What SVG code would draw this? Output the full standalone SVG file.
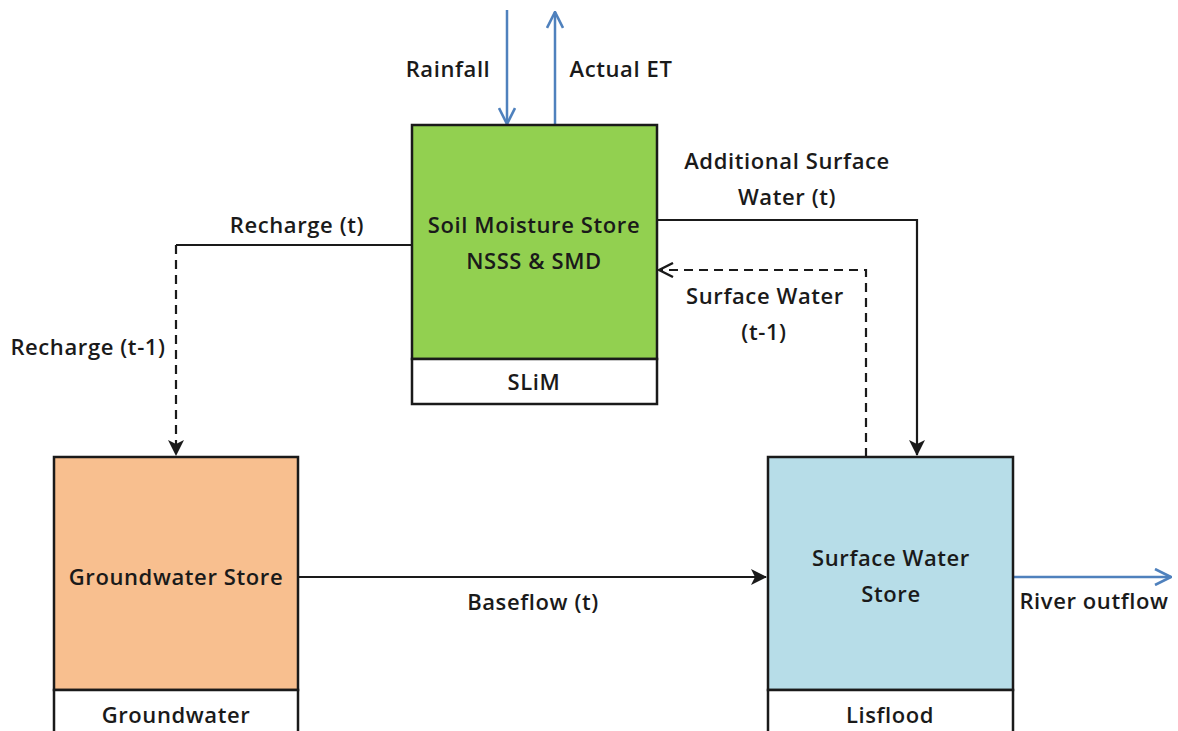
<svg xmlns="http://www.w3.org/2000/svg" width="1178" height="731" viewBox="0 0 1178 731">
<defs>
<style>
text{font-family:"Open Sans","Liberation Sans",sans-serif;font-weight:600;font-size:22px;letter-spacing:0.6px;fill:#1a1a1a;text-anchor:middle}
.box{stroke:#1a1a1a;stroke-width:2.5}
.ln{fill:none;stroke:#1a1a1a;stroke-width:2.2}
.dash{stroke-dasharray:9 6}
.blue{fill:none;stroke:#4f81bd;stroke-width:2.5}
</style>
<marker id="ah" viewBox="0 0 16 16" refX="15" refY="8" markerWidth="16" markerHeight="16" markerUnits="userSpaceOnUse" orient="auto">
<path d="M0,0 L16,8 L0,16 L4,8 Z" fill="#1a1a1a"/>
</marker>
<marker id="ao" viewBox="0 0 16 16" refX="15" refY="8" markerWidth="16" markerHeight="16" markerUnits="userSpaceOnUse" orient="auto">
<path d="M1,1 L15,8 L1,15" fill="none" stroke="#1a1a1a" stroke-width="2.4"/>
</marker>
<marker id="ab" viewBox="0 0 18 18" refX="17" refY="9" markerWidth="18" markerHeight="18" markerUnits="userSpaceOnUse" orient="auto">
<path d="M1,1 L17,9 L1,17" fill="none" stroke="#4f81bd" stroke-width="2.6"/>
</marker>
</defs>
<rect width="1178" height="731" fill="#ffffff"/>

<g id="connectors">
<line class="blue" x1="507" y1="10" x2="507" y2="124" marker-end="url(#ab)"/>
<line class="blue" x1="555" y1="125" x2="555" y2="12" marker-end="url(#ab)"/>
<polyline class="ln" points="657,220 917,220 917,455" marker-end="url(#ah)"/>
<polyline class="ln dash" points="866,457 866,270 659,270" marker-end="url(#ao)"/>
<polyline class="ln" points="412,245 176,245"/>
<line class="ln dash" x1="176" y1="245" x2="176" y2="455" marker-end="url(#ah)"/>
<line class="ln" x1="298" y1="577" x2="766" y2="577" marker-end="url(#ah)"/>
<line class="blue" x1="1013" y1="577" x2="1171" y2="577" marker-end="url(#ab)"/>
<text x="448" y="77">Rainfall</text>
<text x="621" y="77">Actual ET</text>
<text x="787" y="169">Additional Surface</text>
<text x="787" y="205">Water (t)</text>
<text x="297" y="233">Recharge (t)</text>
<text x="88" y="355">Recharge (t-1)</text>
<text x="765" y="304">Surface Water</text>
<text x="764" y="340">(t-1)</text>
<text x="533" y="610">Baseflow (t)</text>
<text x="1094" y="609">River outflow</text>
</g>

<g id="soil">
<rect class="box" x="412" y="125" width="245" height="234" fill="#92d050"/>
<rect class="box" x="412" y="359" width="245" height="45" fill="#ffffff"/>
<text x="534" y="233">Soil Moisture Store</text>
<text x="534" y="269">NSSS &amp; SMD</text>
<text x="534" y="390">SLiM</text>
</g>

<g id="groundwater">
<rect class="box" x="54" y="457" width="244" height="233" fill="#f8bf8f"/>
<rect class="box" x="54" y="690" width="244" height="50" fill="#ffffff"/>
<text x="176" y="585">Groundwater Store</text>
<text x="176" y="723">Groundwater</text>
</g>

<g id="surfacewater">
<rect class="box" x="768" y="457" width="245" height="233" fill="#b7dde8"/>
<rect class="box" x="768" y="690" width="245" height="50" fill="#ffffff"/>
<text x="891" y="566">Surface Water</text>
<text x="891" y="602">Store</text>
<text x="890" y="723">Lisflood</text>
</g>
</svg>
